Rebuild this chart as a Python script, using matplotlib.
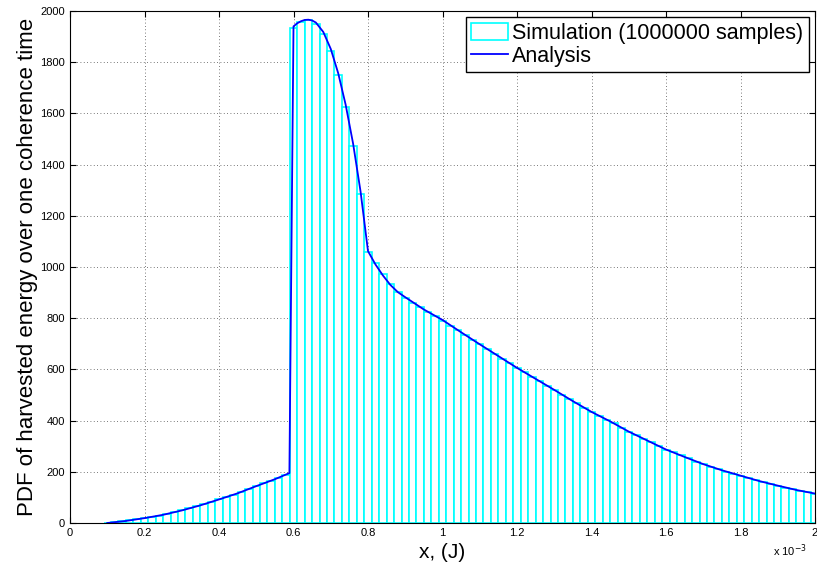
import numpy as np
import matplotlib.pyplot as plt
from matplotlib.ticker import FormatStrFormatter

plt.rcParams['font.family'] = ['Liberation Sans', 'DejaVu Sans']

# histogram of simulated harvested energy (x axis in units of 1e-3 J)
first_center = 0.10
bin_width = 0.02
sim_pdf = [
    1, 3, 6, 10, 14, 19, 24, 29, 35, 42, 49, 57, 65, 73, 82, 92, 101, 111,
    122, 133, 144, 155, 166, 177, 189,
    1935, 1957, 1964, 1951, 1912, 1844, 1749, 1626, 1472, 1285, 1060, 1015,
    972, 933, 904,
    878, 861, 843, 824, 809, 791, 771, 754, 736, 715, 698, 679, 661, 642,
    624, 606, 588, 572, 555, 536, 520, 501, 484, 467, 451, 434, 419,
    403, 390, 373, 357, 343, 329, 315, 302, 287, 276, 264, 252, 240, 230,
    220, 211, 201, 192, 185, 176, 168, 160, 152, 146, 138, 133, 126, 121, 114,
]

# analytical pdf
ana_x = [0.10, 0.15, 0.20, 0.25, 0.30, 0.35, 0.40, 0.45, 0.50, 0.55, 0.589,
         0.60, 0.61, 0.62, 0.63, 0.64, 0.65, 0.66, 0.68, 0.70, 0.72, 0.74,
         0.76, 0.78, 0.80, 0.82, 0.84, 0.86, 0.88, 0.90, 0.95, 1.00, 1.05,
         1.10, 1.15, 1.20, 1.25, 1.30, 1.35, 1.40, 1.45, 1.50, 1.55, 1.60,
         1.65, 1.70, 1.75, 1.80, 1.85, 1.90, 1.95, 2.00]
ana_y = [0, 8, 19, 32, 49, 69, 92, 116, 144, 171, 195,
         1940, 1952, 1960, 1965, 1966, 1963, 1955, 1918, 1852, 1757, 1634,
         1482, 1295, 1062, 1010, 967, 930, 902, 882, 834, 793, 745,
         698, 652, 606, 563, 520, 476, 434, 397, 357, 322, 287,
         258, 230, 206, 185, 164, 146, 129, 115]

centers = first_center + bin_width * np.arange(len(sim_pdf))

fig = plt.figure(figsize=(8.17, 5.70), dpi=100)
ax = fig.add_axes([70 / 817, 47 / 570, 745 / 817, 512 / 570])

bars = ax.bar(centers, sim_pdf, width=bin_width, align='center',
              facecolor='white', edgecolor='cyan', linewidth=1.2, zorder=2)
line, = ax.plot(ana_x, ana_y, color='blue', linewidth=1.3, zorder=3)

ax.set_xlim(0, 2)
ax.set_ylim(0, 2000)
ax.set_xticks(np.arange(0, 2.01, 0.2))
ax.set_yticks(np.arange(0, 2001, 200))
ax.xaxis.set_major_formatter(FormatStrFormatter('%g'))
ax.tick_params(direction='in', length=4, width=0.8, labelsize=8,
               top=True, right=True, colors='black')
for s in ax.spines.values():
    s.set_linewidth(0.8)
    s.set_zorder(4)

ax.grid(True, color='0.3', linestyle=(0, (1, 3)), linewidth=0.6)
ax.set_axisbelow(True)

ax.set_xlabel('x, (J)', fontsize=15, labelpad=4)
ax.set_ylabel('PDF of harvested energy over one coherence time', fontsize=16,
              labelpad=2)
fig.text(790 / 817, 1 - 551 / 570, r'x 10$^{-3}$', fontsize=8, ha='center',
         va='center')

leg = ax.legend([bars, line], ['Simulation (1000000 samples)', 'Analysis'],
                loc='upper right', fontsize=15.5, frameon=True, fancybox=False,
                borderpad=0.25, borderaxespad=0.3, handlelength=1.7,
                handleheight=0.8, handletextpad=0.2, labelspacing=0.1)
leg.get_frame().set_edgecolor('black')
leg.get_frame().set_linewidth(1.0)
leg.get_frame().set_alpha(1)

fig.savefig('out.png', dpi=100)
